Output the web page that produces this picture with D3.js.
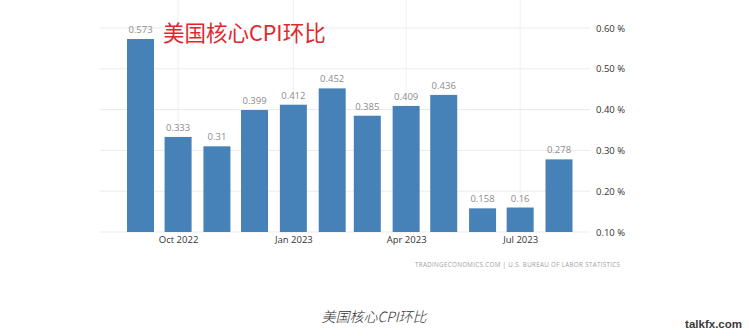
<!DOCTYPE html>
<html>
<head>
<meta charset="utf-8">
<script src="https://cdn.jsdelivr.net/npm/d3@7"></script>
<style>
  html, body { margin: 0; padding: 0; background: #fff; }
  svg { display: block; }
</style>
</head>
<body>
<svg id="chart" width="749" height="336"></svg>
<script>
// Monthly core CPI change (%), Sep 2022 – Aug 2023
const months = ["2022-09", "2022-10", "2022-11", "2022-12", "2023-01", "2023-02",
                "2023-03", "2023-04", "2023-05", "2023-06", "2023-07", "2023-08"];
const values = [0.573, 0.333, 0.31, 0.399, 0.412, 0.452, 0.385, 0.409, 0.436, 0.158, 0.16, 0.278];
const valueLabels = ["0.573", "0.333", "0.31", "0.399", "0.412", "0.452", "0.385", "0.409", "0.436", "0.158", "0.16", "0.278"];
const yTicks = [0.10, 0.20, 0.30, 0.40, 0.50, 0.60];
const xTicks = ["2022-10", "2023-01", "2023-04", "2023-07"];

const parse = d3.timeParse("%Y-%m");
const svg = d3.select("#chart");

const plotLeft = 100, plotRight = 590;

const x = d3.scaleTime()
  .domain([parse("2022-09"), parse("2023-08")])
  .range([140.5, 559]);

const y = d3.scaleLinear()
  .domain([0.10, 0.60])
  .range([232, 28]);

const barW = 27;
const font = "'Open Sans', 'Liberation Sans', Arial, sans-serif";

// horizontal grid
svg.append("g")
  .selectAll("line")
  .data(yTicks)
  .join("line")
  .attr("x1", plotLeft).attr("x2", plotRight)
  .attr("y1", d => y(d)).attr("y2", d => y(d))
  .attr("stroke", "#ebebeb").attr("stroke-width", 1);

// vertical grid at quarter starts
svg.append("g")
  .selectAll("line")
  .data(xTicks)
  .join("line")
  .attr("x1", d => x(parse(d))).attr("x2", d => x(parse(d)))
  .attr("y1", 0).attr("y2", y(0.10))
  .attr("stroke", "#efefef").attr("stroke-width", 1);

// bars
svg.append("g")
  .selectAll("rect")
  .data(values)
  .join("rect")
  .attr("x", (d, i) => x(parse(months[i])) - barW / 2)
  .attr("width", barW)
  .attr("y", d => y(d))
  .attr("height", d => y(0.10) - y(d))
  .attr("fill", "#4682b8");

// value labels
svg.append("g")
  .selectAll("text")
  .data(values)
  .join("text")
  .attr("x", (d, i) => x(parse(months[i])))
  .attr("y", d => y(d) - 6)
  .attr("text-anchor", "middle")
  .attr("font-family", font)
  .attr("font-size", 9.5)
  .attr("fill", "#8c8c8c")
  .text((d, i) => valueLabels[i]);

// right axis labels
const yAxis = d3.axisRight(y)
  .tickValues(yTicks)
  .tickSize(0)
  .tickPadding(0)
  .tickFormat(d => d3.format(".2f")(d) + " %");
svg.append("g")
  .attr("transform", `translate(596,0)`)
  .call(yAxis)
  .call(g => g.select(".domain").remove())
  .call(g => g.selectAll("text")
    .attr("font-family", font)
    .attr("font-size", 9.5)
    .attr("fill", "#333"));

// bottom axis labels
const xAxis = d3.axisBottom(x)
  .tickValues(xTicks.map(parse))
  .tickSize(0)
  .tickPadding(0)
  .tickFormat(d3.timeFormat("%b %Y"));
svg.append("g")
  .attr("transform", `translate(0,236)`)
  .call(xAxis)
  .call(g => g.select(".domain").remove())
  .call(g => g.selectAll("text")
    .attr("font-family", font)
    .attr("font-size", 9.5)
    .attr("fill", "#333"));

// title
svg.append("text")
  .attr("x", 163).attr("y", 41)
  .attr("font-family", "'Noto Sans CJK SC', sans-serif")
  .attr("font-size", 21.5)
  .attr("fill", "#e0282e")
  .text("美国核心CPI环比");

// source line
svg.append("text")
  .attr("x", 620).attr("y", 267)
  .attr("text-anchor", "end")
  .attr("font-family", font)
  .attr("font-size", 6.2)
  .attr("fill", "#a0a0a0")
  .attr("textLength", 205)
  .attr("lengthAdjust", "spacing")
  .text("TRADINGECONOMICS.COM  |  U.S. BUREAU OF LABOR STATISTICS");

// caption
svg.append("text")
  .attr("x", 374).attr("y", 322)
  .attr("text-anchor", "middle")
  .attr("font-family", "'Noto Sans CJK SC', sans-serif")
  .attr("font-size", 14)
  .attr("font-weight", 300)
  .attr("font-style", "italic")
  .attr("fill", "#333")
  .text("美国核心CPI环比");

// site mark
svg.append("text")
  .attr("x", 742).attr("y", 328)
  .attr("text-anchor", "end")
  .attr("font-family", "'Liberation Sans', Arial, sans-serif")
  .attr("font-weight", "bold")
  .attr("font-size", 11.5)
  .attr("fill", "#3a3a3a")
  .text("talkfx.com");
</script>
</body>
</html>
